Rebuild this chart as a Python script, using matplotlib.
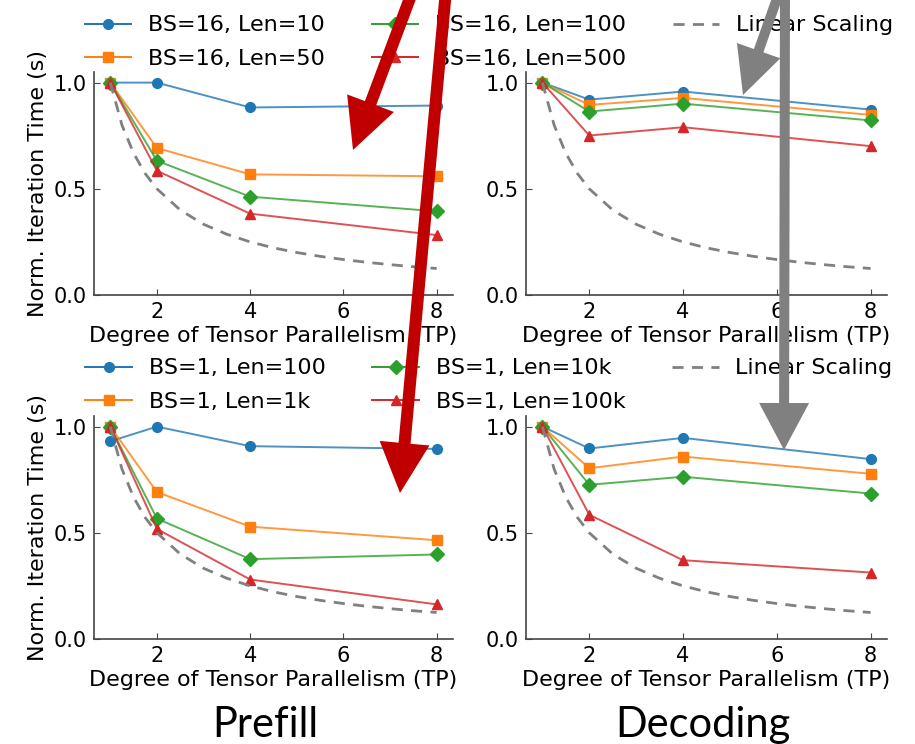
import matplotlib
matplotlib.use("Agg")
import matplotlib.pyplot as plt
from matplotlib.patches import FancyArrow, Rectangle
from matplotlib.lines import Line2D

plt.rcParams['font.family'] = ['DejaVu Sans']

tp = [1, 2, 4, 8]

# Prefill, BS=16
pre16_len10 = [1.0, 1.0, 0.883, 0.892]
pre16_len50 = [1.0, 0.692, 0.568, 0.559]
pre16_len100 = [1.0, 0.632, 0.463, 0.394]
pre16_len500 = [1.0, 0.585, 0.383, 0.282]

# Decoding, BS=16
dec16_len10 = [1.0, 0.920, 0.958, 0.873]
dec16_len50 = [1.0, 0.895, 0.928, 0.848]
dec16_len100 = [1.0, 0.864, 0.901, 0.822]
dec16_len500 = [1.0, 0.751, 0.790, 0.701]

# Prefill, BS=1
pre1_len100 = [0.931, 1.0, 0.908, 0.895]
pre1_len1k = [1.0, 0.692, 0.529, 0.465]
pre1_len10k = [1.0, 0.567, 0.376, 0.398]
pre1_len100k = [1.0, 0.518, 0.280, 0.163]

# Decoding, BS=1
dec1_len100 = [1.0, 0.897, 0.947, 0.847]
dec1_len1k = [1.0, 0.804, 0.859, 0.778]
dec1_len10k = [1.0, 0.726, 0.764, 0.685]
dec1_len100k = [1.0, 0.585, 0.371, 0.313]

# Linear scaling reference (ideal 1/TP)
lin_tp = [1, 1.25, 1.5, 1.75, 2, 2.5, 3, 3.5, 4, 4.5, 5, 5.5, 6, 6.5, 7, 7.5, 8]
lin_val = [1.0, 0.8, 0.667, 0.571, 0.5, 0.4, 0.333, 0.286, 0.25, 0.222, 0.2,
           0.182, 0.167, 0.154, 0.143, 0.133, 0.125]

labels_top = ["BS=16, Len=10", "BS=16, Len=50", "BS=16, Len=100", "BS=16, Len=500"]
labels_bot = ["BS=1, Len=100", "BS=1, Len=1k", "BS=1, Len=10k", "BS=1, Len=100k"]
lin_label = "Linear Scaling"

colors = ['#1f77b4', '#ff7f0e', '#2ca02c', '#d62728']
markers = ['o', 's', 'D', '^']

W, H = 915, 744
fig = plt.figure(figsize=(W / 100, H / 100), dpi=100)


def ax_at(l, t, r, b):
    return fig.add_axes([l / W, 1 - b / H, (r - l) / W, (b - t) / H])


ax_tl = ax_at(94, 72, 453, 295)
ax_tr = ax_at(526, 72, 887, 295)
ax_bl = ax_at(94, 416, 453, 639)
ax_br = ax_at(526, 416, 887, 639)

panels = [
    (ax_tl, [pre16_len10, pre16_len50, pre16_len100, pre16_len500], True),
    (ax_tr, [dec16_len10, dec16_len50, dec16_len100, dec16_len500], False),
    (ax_bl, [pre1_len100, pre1_len1k, pre1_len10k, pre1_len100k], True),
    (ax_br, [dec1_len100, dec1_len1k, dec1_len10k, dec1_len100k], False),
]

LW = 1.4
MS = 7

for ax, series, ylab in panels:
    for s, c, m in zip(series, colors, markers):
        ax.plot(tp, s, color=c, linewidth=LW, alpha=0.8)
        ax.plot(tp, s, color=c, marker=m, markersize=MS, linestyle='none')
    ax.plot(lin_tp, lin_val, color='gray', linestyle='--', linewidth=2,
            dashes=(4, 3))
    ax.set_ylim(0, 1.05)
    ax.set_xlim(0.65, 8.35)
    ax.set_xticks([2, 4, 6, 8])
    ax.set_yticks([0.0, 0.5, 1.0])
    ax.spines['top'].set_visible(False)
    ax.spines['right'].set_visible(False)
    for sp in ('left', 'bottom'):
        ax.spines[sp].set_color('#444444')
        ax.spines[sp].set_linewidth(1.2)
    ax.tick_params(direction='in', length=4, labelsize=15, pad=5, color='#444444')
    ax.set_xlabel("Degree of Tensor Parallelism (TP)", fontsize=16, labelpad=3)
    if ylab:
        ax.set_ylabel("Norm. Iteration Time (s)", fontsize=16, labelpad=4)


def make_legend(labels, ycenter_px):
    handles = [Line2D([], [], color=c, marker=m, markersize=MS, linewidth=LW)
               for c, m in zip(colors, markers)]
    handles.append(Line2D([], [], color='gray', linestyle='--', linewidth=2,
                          dashes=(4, 3)))
    fig.legend(handles, list(labels) + [lin_label], loc='center',
               bbox_to_anchor=(489 / W, 1 - ycenter_px / H),
               ncol=3, frameon=False, fontsize=16, handlelength=2.1,
               handletextpad=0.75, columnspacing=2.1, labelspacing=0.6)


make_legend(labels_top, 42)
make_legend(labels_bot, 385)

# White strip (composite image edge)
fig.add_artist(Rectangle((0, 0), 1, (H - 692) / H, transform=fig.transFigure,
                         facecolor='white', edgecolor='none', zorder=5))

fig.text(265 / W, 1 - 737 / H, "Prefill", fontsize=30, family='Lato',
         ha='center', va='baseline', zorder=6)
fig.text(703 / W, 1 - 737 / H, "Decoding", fontsize=30, family='Lato',
         ha='center', va='baseline', zorder=6)


def arrow(x0, y0, x1, y1, color, width, hw, hl):
    a = FancyArrow(x0 / 100, (H - y0) / 100, (x1 - x0) / 100, -(y1 - y0) / 100,
                   width=width / 100, head_width=hw / 100, head_length=hl / 100,
                   length_includes_head=True, transform=fig.dpi_scale_trans,
                   color=color, linewidth=0, zorder=10)
    fig.add_artist(a)


arrow(413, -10, 353, 150, '#c00000', 12, 50, 50)
arrow(446, -10, 400, 493, '#c00000', 12, 50, 50)
arrow(780, -10, 743, 95, '#808080', 10, 46, 47)
arrow(785, -10, 784, 450, '#808080', 10, 50, 47)

fig.savefig("out.png", dpi=100)
